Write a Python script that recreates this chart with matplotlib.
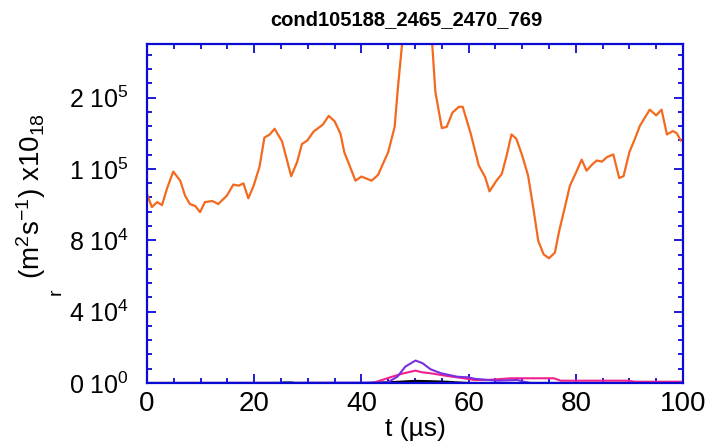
"""
Gamma_r time trace for cond105188_2465_2470_769.
"""

import matplotlib
matplotlib.use("Agg")
import matplotlib.pyplot as plt
from matplotlib.ticker import FixedLocator, MultipleLocator

plt.rcParams["font.family"] = ["Liberation Sans", "DejaVu Sans"]
plt.rcParams["mathtext.fontset"] = "custom"
plt.rcParams["mathtext.rm"] = "Liberation Sans"
plt.rcParams["mathtext.it"] = "Liberation Sans:italic"

TITLE = "cond105188_2465_2470_769"

# orange trace (main signal)
orange_t = [0.0, 0.9, 1.9, 2.8, 3.7, 4.9, 6.2, 7.1, 8.0, 9.0, 9.9, 10.8, 12.2,
            13.3, 14.9, 16.1, 17.1, 18.0, 18.9, 19.9, 21.0, 21.9, 22.9, 23.8,
            25.2, 26.9, 28.0, 28.9, 29.9, 31.1, 32.8, 33.9, 35.0, 36.1, 36.8,
            38.9, 40.0, 41.9, 43.1, 45.0, 46.2, 46.8, 47.6, 48.5, 49.5, 50.4,
            51.3, 52.2, 53.2, 53.8, 55.0, 55.9, 57.0, 58.2, 58.9, 60.4, 61.9,
            63.1, 63.9, 65.2, 66.2, 67.1, 68.0, 68.9, 70.0, 71.1, 72.1, 73.0,
            74.0, 75.0, 76.1, 76.9, 77.8, 78.9, 80.2, 81.1, 82.0, 83.0, 83.9,
            84.9, 85.8, 87.0, 88.1, 88.9, 90.0, 90.9, 92.0, 93.8, 95.0, 96.0,
            97.0, 98.1, 98.8, 99.6]
orange_v = [105900, 98600, 101400, 99700, 108700, 118500, 113400, 105000,
            100300, 99200, 95800, 101400, 102000, 100300, 105000, 111200,
            110600, 111900, 103500, 110600, 121300, 137500, 139300, 142500,
            135400, 115900, 123800, 133900, 135900, 141000, 144800, 149700,
            146700, 139700, 129400, 113400, 115700, 113400, 116600, 129400,
            143500, 165100, 190400, 225000, 255000, 262000, 245000, 215000,
            190400, 163200, 142900, 143500, 151600, 154800, 154800, 139700,
            121900, 115300, 107400, 113400, 117200, 127500, 139300, 136900,
            127500, 116200, 97500, 79600, 72100, 69900, 73100, 85200, 96500,
            110600, 119000, 125200, 119000, 122300, 124700, 124100, 126600,
            128100, 114900, 115900, 129400, 135900, 144400, 153200, 150000,
            153200, 139300, 141200, 140100, 135900]

# purple trace
purple_t = [0.0, 44.8, 46.7, 48.2, 50.1, 51.4, 52.9, 54.8, 57.9, 59.8, 61.3,
            65.4, 69.1, 70.3, 71.6, 100.0]
purple_v = [0, 200, 3500, 9200, 12600, 11100, 7700, 5500, 3500, 3200, 2300,
            1300, 1700, 700, 0, 0]

# pink trace
pink_t = [0.0, 41.7, 42.3, 45.7, 47.9, 50.1, 51.3, 52.9, 56.0, 59.1, 61.0,
          63.5, 67.9, 75.9, 77.2, 89.7, 91.0, 99.6]
pink_v = [0, 0, 170, 3500, 5460, 6930, 6020, 5460, 3940, 2650, 1690, 1690,
          2650, 2650, 1300, 1300, 730, 730]

# black trace
black_t = [0.0, 41.0, 44.0, 47.0, 50.0, 53.0, 56.0, 58.0, 60.0, 100.0]
black_v = [0, 0, 300, 700, 1200, 1000, 700, 300, 0, 0]

# green trace
green_t = [0.0, 25.0, 25.5, 27.0, 27.5, 100.0]
green_v = [0, 0, 400, 400, 0, 0]

y_ticks = [0, 40000, 80000, 120000, 160000]
y_tick_labels = ["0 10$^0$", "4 10$^4$", "8 10$^4$", "1 10$^5$", "2 10$^5$"]
x_ticks = [0, 20, 40, 60, 80, 100]

FRAME = "#0a0ad2"

fig = plt.figure(figsize=(7.06, 4.46), dpi=100)
fig.subplots_adjust(left=147 / 706, right=683 / 706, bottom=1 - 383 / 446,
                    top=1 - 44 / 446)
ax = fig.add_subplot(111)

ax.plot(green_t, green_v, color="#0a7a1a", lw=1.5)
ax.plot(black_t, black_v, color="black", lw=1.5)
ax.plot(pink_t, pink_v, color="#f0208c", lw=1.5)
ax.plot(purple_t, purple_v, color="#7a2ee0", lw=1.5)
ax.plot(orange_t, orange_v, color="#f36a1e", lw=1.6)

ax.set_xlim(0, 100)
ax.set_ylim(0, 190000)

ax.xaxis.set_major_locator(FixedLocator(x_ticks))
ax.xaxis.set_minor_locator(MultipleLocator(5))
ax.yaxis.set_major_locator(FixedLocator(y_ticks))
ax.yaxis.set_minor_locator(MultipleLocator(8000))
ax.set_yticklabels(y_tick_labels)

for spine in ax.spines.values():
    spine.set_color(FRAME)
    spine.set_linewidth(1.6)

ax.tick_params(which="both", direction="in", color=FRAME, top=True, right=True,
               width=1.3)
ax.tick_params(which="major", length=6.5)
ax.tick_params(which="minor", length=3.3)
ax.tick_params(axis="x", which="major", labelsize=20, pad=6)
ax.tick_params(axis="y", which="major", labelsize=18, pad=13)

ax.set_xlabel("t (µs)", fontsize=19, labelpad=0)

fig.text(406 / 706, 1 - 20 / 446, TITLE, ha="center", va="center",
         fontsize=14.5, fontweight="bold")
fig.text(31 / 706, 1 - 196 / 446, "(m$^2$s$^{-1}$) x10$_{18}$", rotation=90,
         ha="center", va="center", fontsize=20)
fig.text(56 / 706, 1 - 292 / 446, "r", rotation=90, ha="center",
         va="center", fontsize=14)

fig.savefig("out.png", dpi=100)
